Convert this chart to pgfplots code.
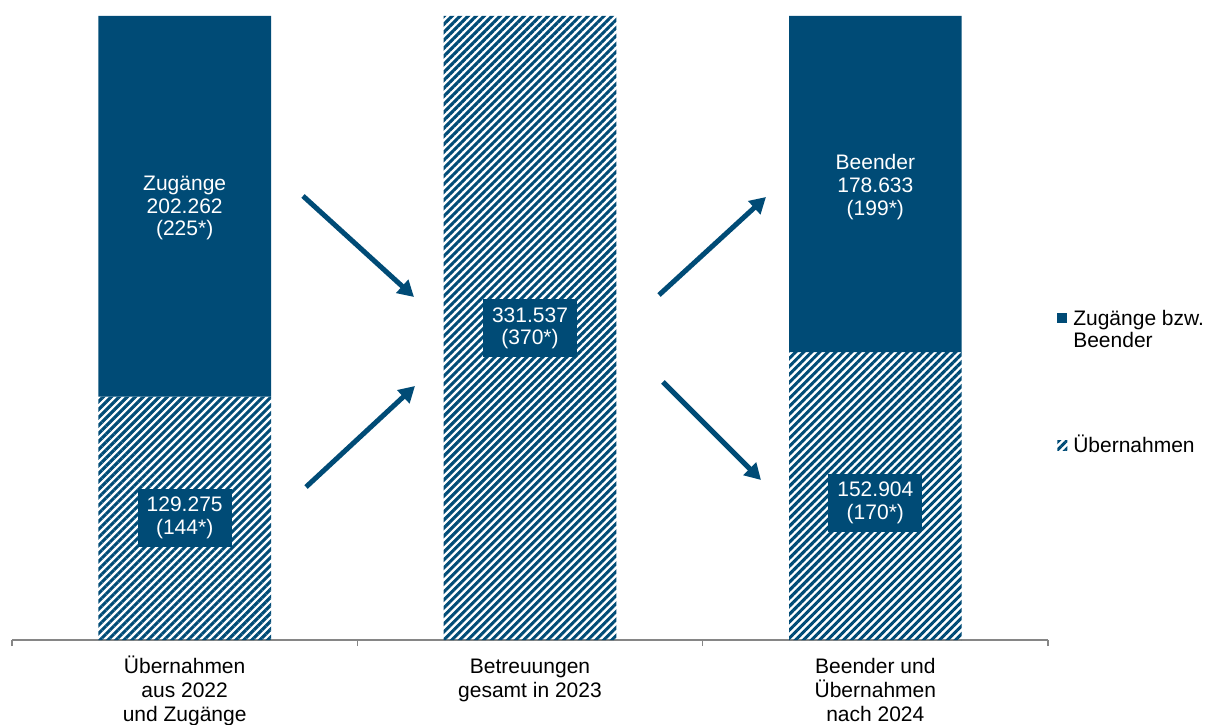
\documentclass[border=0pt]{standalone}
\usepackage{fontspec}
\setmainfont{Liberation Sans}
\usepackage{pgfplots}
\pgfplotsset{compat=1.18}
\usetikzlibrary{patterns.meta,arrows.meta}
\definecolor{dblue}{RGB}{0,75,118}
\definecolor{axgray}{RGB}{134,134,134}
\pgfplotsset{sqlegend/.style={legend image code/.code={\path[##1] (0pt,1.5pt) rectangle (7.5pt,9pt);}},
  sqlegendtop/.style={legend image code/.code={\path[##1] (0pt,18.5pt) rectangle (7.5pt,26pt);}}}
\newcommand{\fs}{\rule{0pt}{14pt}}
\begin{document}
\fontsize{15.75pt}{17pt}\selectfont
\begin{tikzpicture}
\path[use as bounding box] (-9pt,-63pt) rectangle (894.75pt,480pt);
\begin{axis}[
  at={(0,0)}, anchor=south west,
  scale only axis, width=777pt, height=468pt,
  xmin=0, xmax=3, ymin=0, ymax=331537,
  axis x line*=bottom, axis y line=none,
  ybar stacked, bar width=0.5,
  xtick={0.5,1.5,2.5},
  xticklabels={{\fs Übernahmen\\aus 2022\\und Zugänge},{\fs Betreuungen\\gesamt in 2023},{\fs Beender und\\Übernahmen\\nach 2024}},
  major tick length=0pt,
  minor xtick={0,1,2,3},
  minor tick length=4.5pt,
  tick align=outside,
  tick style={axgray, line width=1.1pt},
  axis line style={axgray, line width=1.1pt},
  xticklabel style={align=center, font=\fontsize{15.75pt}{18pt}\selectfont, text=black, anchor=north, inner sep=0pt, yshift=-10.75pt},
  clip=false,
  reverse legend,
  legend style={at={(1.0087,0.5337)}, anchor=north west, draw=none, fill=none, inner sep=0pt,
    row sep=61pt, column sep=2.5pt,
    nodes={inner sep=2pt, text depth=, anchor=base west, align=left}},
]
\addplot[draw=none, pattern={Lines[angle=45,distance=4.24pt,line width=2.3pt]}, pattern color=dblue, sqlegend]
  coordinates {(0.5,129275) (1.5,331537) (2.5,152904)};
\addlegendentry{Übernahmen}
\addplot[draw=none, fill=dblue, sqlegendtop]
  coordinates {(0.5,202262) (1.5,0) (2.5,178633)};
\addlegendentry{Zugänge bzw.\\Beender}

\coordinate (l1) at (axis cs:0.5,229525);
\coordinate (l2) at (axis cs:2.5,240683);
\coordinate (b1) at (axis cs:0.5,64820);
\coordinate (b2) at (axis cs:1.5,165502);
\coordinate (b3) at (axis cs:2.5,72790);

\draw[dblue, line width=3.75pt, -{Triangle[length=12pt,width=13pt]}] (axis cs:0.8427,235902) -- (axis cs:1.1641,182239);
\draw[dblue, line width=3.75pt, -{Triangle[length=12pt,width=13pt]}] (axis cs:0.8514,81290) -- (axis cs:1.1670,134953);
\draw[dblue, line width=3.75pt, -{Triangle[length=12pt,width=13pt]}] (axis cs:1.8736,183302) -- (axis cs:2.1834,235370);
\draw[dblue, line width=3.75pt, -{Triangle[length=12pt,width=13pt]}] (axis cs:1.8851,137078) -- (axis cs:2.1689,85010);
\end{axis}
\node[text=white, align=center] at (l1) {Zugänge\\202.262\\(225*)};
\node[text=white, align=center] at (l2) {Beender\\178.633\\(199*)};
\node[fill=dblue, text=white, align=center, minimum width=70.5pt, minimum height=43.5pt] at (b1) {129.275\\(144*)};
\node[fill=dblue, text=white, align=center, minimum width=70.5pt, minimum height=43.5pt] at (b2) {331.537\\(370*)};
\node[fill=dblue, text=white, align=center, minimum width=70.5pt, minimum height=43.5pt] at (b3) {152.904\\(170*)};
\end{tikzpicture}
\end{document}
